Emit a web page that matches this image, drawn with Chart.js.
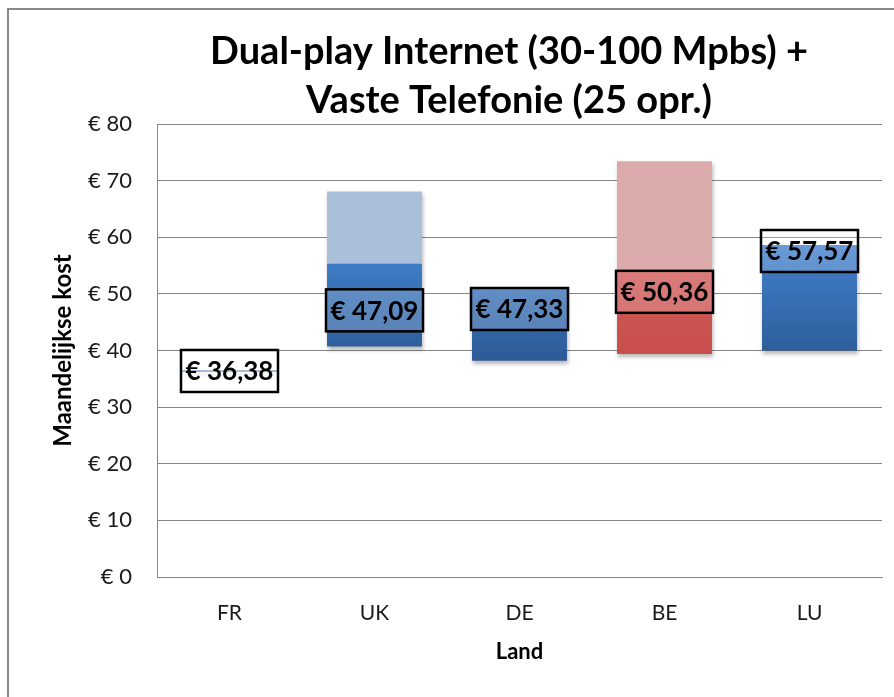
<!DOCTYPE html>
<html><head><meta charset="utf-8">
<script src="https://cdn.jsdelivr.net/npm/chart.js@4.4.1/dist/chart.umd.min.js"></script>
<style>html,body{margin:0;padding:0;background:#fff;overflow:hidden}
#wrap{position:relative;width:894px;height:697px}</style>
</head><body><div id="wrap"><canvas id="c" width="894" height="697"></canvas></div>
<script>
const titleLines = ['Dual-play Internet (30-100 Mpbs) +', 'Vaste Telefonie (25 opr.)'];
const categories = ['FR', 'UK', 'DE', 'BE', 'LU'];
const lowValues = [36.30, 40.7, 38.2, 39.4, 40.0];
const splitValues = [36.46, 55.3, 51.2, 54.0, 58.65];
const highValues = [36.46, 68.1, 51.2, 73.4, 58.65];
const averageValues = [36.38, 47.09, 47.33, 50.36, 57.57];
const yTickValues = [0, 10, 20, 30, 40, 50, 60, 70, 80];
const xAxisTitle = 'Land';
const yAxisTitle = 'Maandelijkse kost';
const highlightCategory = 'BE';

const FONT = "Lato, 'Open Sans', sans-serif";
function euro(v, d) { return '\u20AC ' + Number(v).toFixed(d).replace('.', ','); }

function darkColor(ctx) {
  const chart = ctx.chart;
  const red = categories[ctx.dataIndex] === highlightCategory;
  if (!chart.chartArea) return red ? '#cc5553' : '#3770b8';
  const y = chart.scales.y;
  const g = chart.ctx.createLinearGradient(0, y.getPixelForValue(59), 0, y.getPixelForValue(38));
  if (red) { g.addColorStop(0, '#d45e5c'); g.addColorStop(1, '#c64d4b'); }
  else { g.addColorStop(0, '#4282cf'); g.addColorStop(1, '#2c5a95'); }
  return g;
}
function lightColor(ctx) {
  return categories[ctx.dataIndex] === highlightCategory ? '#dbaaaa' : '#aac0da';
}

const decor = {
  id: 'decor',
  beforeDraw(chart) {
    const c = chart.ctx;
    c.save();
    c.strokeStyle = '#888888'; c.lineWidth = 2;
    c.strokeRect(8, 9, 920, 720);
    c.restore();
  },
  beforeDatasetDraw(chart, args) {
    const c = chart.ctx;
    c.save();
    c.shadowColor = 'rgba(0,0,0,0.28)';
    c.shadowBlur = 4; c.shadowOffsetX = 1; c.shadowOffsetY = 3;
  },
  afterDatasetDraw(chart) { chart.ctx.restore(); },
  afterDatasetsDraw(chart) {
    const c = chart.ctx, xs = chart.scales.x, ys = chart.scales.y;
    c.save();
    averageValues.forEach((v, i) => {
      const x = xs.getPixelForValue(i), y = ys.getPixelForValue(v);
      const w = 97, h = 42;
      c.fillStyle = 'rgba(255,255,255,0.2)';
      c.fillRect(x - w / 2, y - h / 2, w, h);
      c.strokeStyle = '#000'; c.lineWidth = 2.5;
      c.strokeRect(x - w / 2, y - h / 2, w, h);
      c.fillStyle = '#000';
      c.font = 'bold 26px ' + FONT;
      c.textAlign = 'center'; c.textBaseline = 'middle';
      c.fillText(euro(v, 2), x, y + 1);
    });
    c.fillStyle = '#000';
    c.font = 'bold 38px ' + FONT;
    c.textAlign = 'center'; c.textBaseline = 'middle';
    c.fillText(titleLines[0], 509, 52);
    c.fillText(titleLines[1], 509, 101);
    c.restore();
  }
};

new Chart(document.getElementById('c'), {
  type: 'bar',
  data: {
    labels: categories,
    datasets: [
      { label: 'dark', data: categories.map((c, i) => [lowValues[i], splitValues[i]]), backgroundColor: darkColor, grouped: false },
      { label: 'light', data: categories.map((c, i) => [splitValues[i], highValues[i]]), backgroundColor: lightColor, grouped: false }
    ]
  },
  options: {
    responsive: false, animation: false, devicePixelRatio: 1,
    layout: { padding: { top: 124, left: 0, right: 12, bottom: 0 } },
    plugins: { legend: { display: false }, tooltip: { enabled: false }, title: { display: false } },
    datasets: { bar: { barPercentage: 0.655, categoryPercentage: 1, borderWidth: 0 } },
    scales: {
      x: {
        grid: { display: false, drawTicks: false },
        border: { display: true, color: '#868686', width: 1 },
        ticks: { font: { family: FONT, size: 21 }, color: '#1a1a1a', padding: 24 },
        title: { display: true, text: xAxisTitle, font: { family: FONT, size: 22, weight: 'bold' }, color: '#000', padding: { top: 0, bottom: 32 } },
        afterFit(s) { s.height = 120; }
      },
      y: {
        min: 0, max: 80,
        afterBuildTicks(s) { s.ticks = yTickValues.map(v => ({ value: v })); },
        grid: { color: '#868686', drawTicks: false },
        border: { display: true, color: '#868686', width: 1 },
        ticks: { font: { family: FONT, size: 22 }, color: '#1a1a1a', padding: 25, callback: v => euro(v, 0) },
        title: { display: true, text: yAxisTitle, font: { family: FONT, size: 24, weight: 'bold' }, color: '#000', padding: { top: 49, bottom: 0 } },
        afterFit(s) { s.width = 157; }
      }
    }
  },
  plugins: [decor]
});
</script></body></html>
